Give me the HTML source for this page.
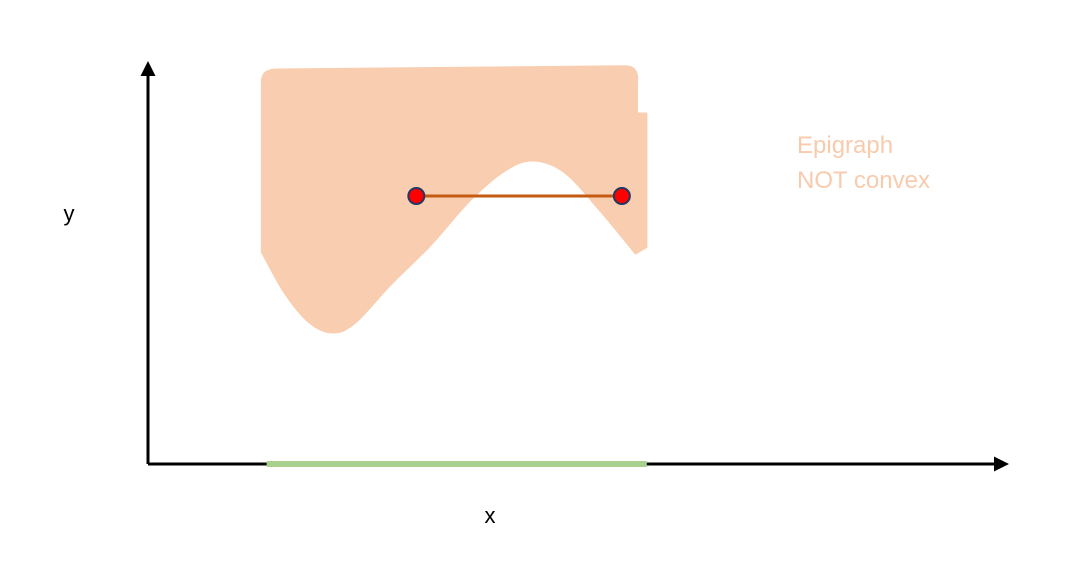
<!DOCTYPE html>
<html><head><meta charset="utf-8"><style>
html,body{margin:0;padding:0;background:#fff;}
svg{display:block;font-family:"Liberation Sans",sans-serif;}
</style></head><body>
<svg id="chart" width="1089" height="567" viewBox="0 0 1089 567">
<defs>
<marker id="ah" viewBox="0 0 10 10" refX="8" refY="5" markerWidth="5" markerHeight="5" orient="auto"><path d="M0,0L10,5L0,10z" fill="#000"/></marker>
</defs>
<path id="epi" fill="#f8cdb0" stroke="#f8cdb0" stroke-width="3" stroke-linejoin="round"/>
<line x1="148" y1="464" x2="1006" y2="464" stroke="#000" stroke-width="3" marker-end="url(#ah)"/>
<line x1="148" y1="464" x2="148" y2="64" stroke="#000" stroke-width="3" marker-end="url(#ah)"/>
<line id="dom" stroke="#a9d18e" stroke-width="6"/>
<line id="chord" stroke="#c55a11" stroke-width="3"/>
<g id="pts"></g>
<text x="490" y="523" font-size="22" text-anchor="middle">x</text>
<text x="69" y="221" font-size="22" text-anchor="middle">y</text>
<text x="797" y="153" font-size="24" fill="#f8cbad">Epigraph</text>
<text x="797" y="188" font-size="24" fill="#f8cbad">NOT convex</text>
</svg>
<script>
const curveX=[5.67,5.26,4.85,4.48,4.15,3.74,3.28,2.81,2.41,2.15,1.88,1.59,1.33];
const curveY=[5.28,6.35,7.3,7.6,7.35,6.6,5.48,4.48,3.55,3.3,3.55,4.3,5.3];
const pointX=[3.12,5.51];
const pointY=[6.7,6.7];
const domain=[1.38,5.8];
const epiTop=9.85;
function sx(v){return 148+v*86;}
function sy(v){return 464-v*40;}
const P=curveX.map((x,i)=>[sx(x),sy(curveY[i])]);
let d='M'+sx(1.33)+','+sy(epiTop-0.3);
d+=' Q'+sx(1.33)+','+sy(epiTop)+' '+sx(1.5)+','+sy(epiTop);
d+=' L'+sx(5.55)+','+sy(epiTop+0.08)+' Q'+sx(5.7)+','+sy(epiTop+0.08)+' '+sx(5.68)+','+sy(epiTop-0.3);
d+=' L'+sx(5.68)+','+sy(8.75)+' L'+sx(5.79)+','+sy(8.75)+' L'+sx(5.79)+','+sy(curveY[0]+0.15)+' L'+P[0][0]+','+P[0][1];
for(let i=0;i<P.length-1;i++){
 const p0=P[Math.max(0,i-1)],p1=P[i],p2=P[i+1],p3=P[Math.min(P.length-1,i+2)];
 const c1=[p1[0]+(p2[0]-p0[0])/6,p1[1]+(p2[1]-p0[1])/6];
 const c2=[p2[0]-(p3[0]-p1[0])/6,p2[1]-(p3[1]-p1[1])/6];
 d+=' C'+c1[0]+','+c1[1]+' '+c2[0]+','+c2[1]+' '+p2[0]+','+p2[1];
}
d+='Z';
document.getElementById('epi').setAttribute('d',d);
const dom=document.getElementById('dom');
dom.setAttribute('x1',sx(domain[0]));dom.setAttribute('x2',sx(domain[1]));dom.setAttribute('y1',464);dom.setAttribute('y2',464);
const ch=document.getElementById('chord');
ch.setAttribute('x1',sx(pointX[0]));ch.setAttribute('x2',sx(pointX[1]));ch.setAttribute('y1',sy(pointY[0]));ch.setAttribute('y2',sy(pointY[1]));
const g=document.getElementById('pts');
for(let i=0;i<pointX.length;i++){
 const c=document.createElementNS('http://www.w3.org/2000/svg','circle');
 
 
 c.setAttribute('cx',sx(pointX[i]));c.setAttribute('cy',sy(pointY[i]));c.setAttribute('r',8);
 c.setAttribute('fill','#ff0000');c.setAttribute('stroke','#1f3864');c.setAttribute('stroke-width',2);
 g.appendChild(c);
}
</script>
</body></html>
